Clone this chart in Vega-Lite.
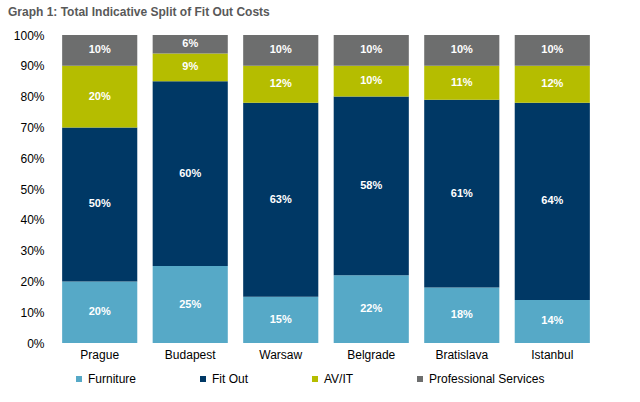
{
  "$schema": "https://vega.github.io/schema/vega-lite/v6.json",
  "width": 544,
  "height": 308,
  "autosize": {"type": "none"},
  "padding": {"left": 54, "top": 35, "right": 42, "bottom": 59},
  "background": "white",
  "config": {
    "view": {"stroke": null},
    "font": "Liberation Sans"
  },
  "title": {
    "text": "Graph 1: Total Indicative Split of Fit Out Costs",
    "anchor": "start",
    "frame": "group",
    "dx": -46,
    "offset": 10,
    "font": "Liberation Sans",
    "fontSize": 12,
    "fontWeight": "bold",
    "color": "#595959"
  },
  "data": {
    "values": [
      {"city": "Prague", "category": "Furniture", "k": 1, "value": 0.20},
      {"city": "Prague", "category": "Fit Out", "k": 2, "value": 0.50},
      {"city": "Prague", "category": "AV/IT", "k": 3, "value": 0.20},
      {"city": "Prague", "category": "Professional Services", "k": 4, "value": 0.10},
      {"city": "Budapest", "category": "Furniture", "k": 1, "value": 0.25},
      {"city": "Budapest", "category": "Fit Out", "k": 2, "value": 0.60},
      {"city": "Budapest", "category": "AV/IT", "k": 3, "value": 0.09},
      {"city": "Budapest", "category": "Professional Services", "k": 4, "value": 0.06},
      {"city": "Warsaw", "category": "Furniture", "k": 1, "value": 0.15},
      {"city": "Warsaw", "category": "Fit Out", "k": 2, "value": 0.63},
      {"city": "Warsaw", "category": "AV/IT", "k": 3, "value": 0.12},
      {"city": "Warsaw", "category": "Professional Services", "k": 4, "value": 0.10},
      {"city": "Belgrade", "category": "Furniture", "k": 1, "value": 0.22},
      {"city": "Belgrade", "category": "Fit Out", "k": 2, "value": 0.58},
      {"city": "Belgrade", "category": "AV/IT", "k": 3, "value": 0.10},
      {"city": "Belgrade", "category": "Professional Services", "k": 4, "value": 0.10},
      {"city": "Bratislava", "category": "Furniture", "k": 1, "value": 0.18},
      {"city": "Bratislava", "category": "Fit Out", "k": 2, "value": 0.61},
      {"city": "Bratislava", "category": "AV/IT", "k": 3, "value": 0.11},
      {"city": "Bratislava", "category": "Professional Services", "k": 4, "value": 0.10},
      {"city": "Istanbul", "category": "Furniture", "k": 1, "value": 0.14},
      {"city": "Istanbul", "category": "Fit Out", "k": 2, "value": 0.64},
      {"city": "Istanbul", "category": "AV/IT", "k": 3, "value": 0.12},
      {"city": "Istanbul", "category": "Professional Services", "k": 4, "value": 0.10}
    ]
  },
  "encoding": {
    "x": {
      "field": "city",
      "type": "nominal",
      "sort": null,
      "scale": {"paddingInner": 0.17, "paddingOuter": 0.09},
      "axis": {
        "title": null,
        "labelAngle": 0,
        "domain": false,
        "ticks": false,
        "labelPadding": 6,
        "labelFont": "Liberation Sans",
        "labelFontSize": 12,
        "labelColor": "#000000"
      }
    },
    "y": {
      "field": "value",
      "type": "quantitative",
      "stack": "zero",
      "scale": {"domain": [0, 1], "nice": false},
      "axis": {
        "title": null,
        "values": [0, 0.1, 0.2, 0.3, 0.4, 0.5, 0.6, 0.7, 0.8, 0.9, 1],
        "format": ".0%",
        "domain": false,
        "ticks": false,
        "grid": false,
        "labelPadding": 10,
        "labelFont": "Liberation Sans",
        "labelFontSize": 12,
        "labelColor": "#000000"
      }
    },
    "order": {"field": "k", "type": "quantitative", "sort": "ascending"}
  },
  "layer": [
    {
      "mark": {"type": "bar"},
      "encoding": {
        "color": {
          "field": "category",
          "type": "nominal",
          "sort": ["Furniture", "Fit Out", "AV/IT", "Professional Services"],
          "scale": {
            "domain": ["Furniture", "Fit Out", "AV/IT", "Professional Services"],
            "range": ["#56A9C7", "#003865", "#B5BD00", "#6D6E6E"]
          },
          "legend": {
            "title": null,
            "orient": "none",
            "legendX": 19,
            "legendY": 338,
            "direction": "horizontal",
            "columns": 4,
            "columnPadding": 60,
            "symbolType": "square",
            "symbolSize": 36,
            "symbolStrokeWidth": 0,
            "symbolOffset": 0,
            "labelOffset": 3,
            "labelFont": "Liberation Sans",
            "labelFontSize": 12,
            "labelColor": "#000000"
          }
        }
      }
    },
    {
      "mark": {
        "type": "text",
        "color": "white",
        "font": "Liberation Sans",
        "fontSize": 11,
        "fontWeight": "bold",
        "baseline": "middle"
      },
      "encoding": {
        "y": {"field": "value", "type": "quantitative", "stack": "zero", "bandPosition": 0.5},
        "detail": {"field": "category", "type": "nominal"},
        "text": {"field": "value", "type": "quantitative", "format": ".0%"},
        "color": {"value": "white"}
      }
    }
  ]
}
